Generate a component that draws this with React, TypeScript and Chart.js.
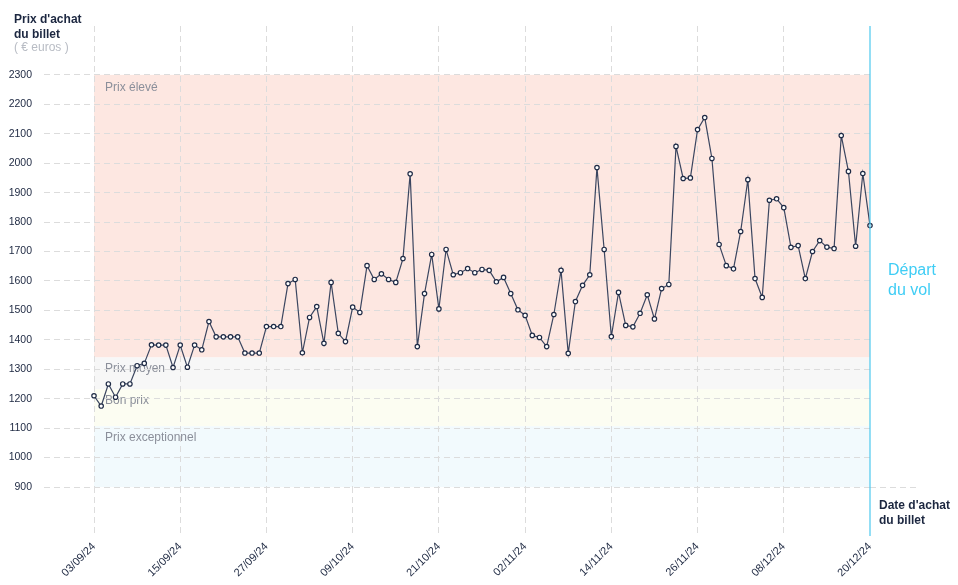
import React, { useEffect, useRef } from 'react';
import { Chart, registerables } from 'chart.js';

Chart.register(...registerables);

// ---- Data ----
const tickLabels = ['03/09/24', '15/09/24', '27/09/24', '09/10/24', '21/10/24', '02/11/24', '14/11/24', '26/11/24', '08/12/24', '20/12/24'];
const tickStepDays = 12;

// daily purchase price (euros) from 03/09/24 to 20/12/24
const prices = [
  1210, 1175, 1250, 1205, 1250, 1250, 1312, 1320, 1383, 1382,
  1382, 1306, 1382, 1307, 1382, 1366, 1462, 1410, 1410, 1410,
  1410, 1355, 1355, 1355, 1445, 1445, 1445, 1591, 1605, 1356,
  1476, 1513, 1388, 1595, 1422, 1394, 1511, 1493, 1652, 1605,
  1624, 1605, 1595, 1676, 1964, 1377, 1557, 1690, 1505, 1707,
  1621, 1628, 1642, 1628, 1639, 1636, 1597, 1612, 1557, 1502,
  1483, 1415, 1408, 1377, 1486, 1636, 1354, 1530, 1585, 1621,
  1985, 1707, 1411, 1561, 1449, 1444, 1490, 1553, 1471, 1574,
  1588, 2057, 1948, 1950, 2114, 2155, 2016, 1724, 1652, 1641,
  1768, 1944, 1608, 1544, 1874, 1879, 1849, 1714, 1720, 1608,
  1700, 1737, 1715, 1710, 2094, 1972, 1718, 1965, 1788,
];

const yTicks = [900, 1000, 1100, 1200, 1300, 1400, 1500, 1600, 1700, 1800, 1900, 2000, 2100, 2200, 2300];

const bandNames = ['Prix élevé', 'Prix moyen', 'Bon prix', 'Prix exceptionnel'];
const bandTops = [2300, 1340, 1232, 1106];
const bandBottoms = [1340, 1232, 1106, 900];
const bandColors = ['#fde7e1', '#f7f7f7', '#fcfdf2', '#f2fafd'];

const yTitle = ["Prix d'achat", 'du billet'];
const yUnit = '( € euros )';
const xTitle = ["Date d'achat", 'du billet'];
const departLabel = ['Départ', 'du vol'];

const FONT = '"Liberation Sans", Arial, Helvetica, sans-serif';
const NAVY = '#1c2740';
const GRID = '#dcdcdc';
const CYAN = '#4cc8ee';

const lastTick = (tickLabels.length - 1) * tickStepDays;

const decorPlugin = {
  id: 'decor',
  beforeDraw(chart: any) {
    const { ctx, scales } = chart;
    const x = scales.x;
    const y = scales.y;
    const x0 = x.getPixelForValue(0);
    const x1 = x.getPixelForValue(lastTick);
    ctx.save();
    bandNames.forEach((_, i) => {
      const top = y.getPixelForValue(bandTops[i]);
      const bot = y.getPixelForValue(bandBottoms[i]);
      ctx.fillStyle = bandColors[i];
      ctx.fillRect(x0, top, x1 - x0, bot - top);
    });
    ctx.font = `12px ${FONT}`;
    ctx.fillStyle = '#8b8f9a';
    ctx.textBaseline = 'middle';
    ctx.textAlign = 'left';
    bandNames.forEach((name, i) => {
      ctx.fillText(name, x0 + 11, y.getPixelForValue(bandTops[i]) + (i === 0 ? 13 : 11));
    });
    ctx.restore();
  },
  afterDraw(chart: any) {
    const { ctx, scales, chartArea } = chart;
    const x = scales.x;
    const y = scales.y;
    ctx.save();
    // extension of the 900 baseline
    const yb = Math.round(y.getPixelForValue(yTicks[0])) + 0.5;
    ctx.strokeStyle = GRID;
    ctx.lineWidth = 1;
    ctx.setLineDash([6, 4]);
    ctx.beginPath();
    ctx.moveTo(chartArea.right, yb);
    ctx.lineTo(chartArea.right + 49, yb);
    ctx.stroke();
    // departure line
    const xd = x.getPixelForValue(lastTick);
    ctx.setLineDash([]);
    ctx.strokeStyle = CYAN;
    ctx.lineWidth = 1.2;
    ctx.beginPath();
    ctx.moveTo(xd, chartArea.top);
    ctx.lineTo(xd, chartArea.bottom + 49);
    ctx.stroke();
    // texts
    ctx.textAlign = 'left';
    ctx.textBaseline = 'alphabetic';
    ctx.fillStyle = NAVY;
    ctx.font = `bold 12px ${FONT}`;
    ctx.fillText(yTitle[0], 14, 23);
    ctx.fillText(yTitle[1], 14, 38);
    ctx.fillStyle = '#b8bcc4';
    ctx.font = `12px ${FONT}`;
    ctx.fillText(yUnit, 14, 51);
    ctx.fillStyle = NAVY;
    ctx.font = `bold 12px ${FONT}`;
    ctx.fillText(xTitle[0], xd + 9, 509);
    ctx.fillText(xTitle[1], xd + 9, 524);
    ctx.fillStyle = '#3fcdf5';
    ctx.font = `16px ${FONT}`;
    ctx.fillText(departLabel[0], xd + 18, 275);
    ctx.fillText(departLabel[1], xd + 18, 295);
    ctx.restore();
  },
};

export default function App() {
  const canvasRef = useRef<HTMLCanvasElement | null>(null);

  useEffect(() => {
    if (!canvasRef.current) return;
    Chart.defaults.font.family = FONT;
    const chart = new Chart(canvasRef.current, {
      type: 'line',
      data: {
        datasets: [
          {
            data: prices.map((p, i) => ({ x: i, y: p })),
            borderColor: '#3b4660',
            borderWidth: 1.2,
            pointRadius: 2.2,
            pointBackgroundColor: '#ffffff',
            pointBorderColor: '#1e2a45',
            pointBorderWidth: 1.2,
            tension: 0,
            clip: false as any,
          },
        ],
      },
      options: {
        animation: false,
        responsive: true,
        maintainAspectRatio: false,
        events: [],
        layout: { padding: { left: 0, top: 26, right: 88, bottom: 0 } },
        plugins: { legend: { display: false }, tooltip: { enabled: false } },
        scales: {
          x: {
            type: 'linear',
            min: 0,
            max: lastTick,
            afterBuildTicks: (s: any) => {
              s.ticks = tickLabels.map((_, i) => ({ value: i * tickStepDays }));
            },
            afterFit: (s: any) => {
              s.height = 98;
            },
            ticks: {
              autoSkip: false,
              minRotation: 45,
              maxRotation: 45,
              padding: 4,
              color: NAVY,
              font: { size: 11 },
              callback: (v: any) => tickLabels[Math.round(Number(v) / tickStepDays)],
            },
            grid: {
              color: (c: any) => (c.tick && c.tick.value === lastTick ? 'rgba(0,0,0,0)' : GRID),
              tickLength: 49,
              tickBorderDash: [6, 4],
            },
            border: { display: false, dash: [6, 4] },
          },
          y: {
            type: 'linear',
            min: 900,
            max: 2466,
            afterBuildTicks: (s: any) => {
              s.ticks = yTicks.map((v) => ({ value: v }));
            },
            afterFit: (s: any) => {
              s.width = 94;
            },
            ticks: {
              padding: 12,
              color: NAVY,
              font: { size: 10.5 },
              callback: (v: any) => String(v),
            },
            grid: {
              color: GRID,
              tickLength: 50,
              tickBorderDash: [6, 4],
            },
            border: { display: false, dash: [6, 4] },
          },
        },
      },
      plugins: [decorPlugin],
    } as any);
    return () => chart.destroy();
  }, []);

  return (
    <div style={{ position: 'fixed', left: 0, top: 0, width: 958, height: 585, background: '#ffffff' }}>
      <canvas ref={canvasRef} />
    </div>
  );
}
